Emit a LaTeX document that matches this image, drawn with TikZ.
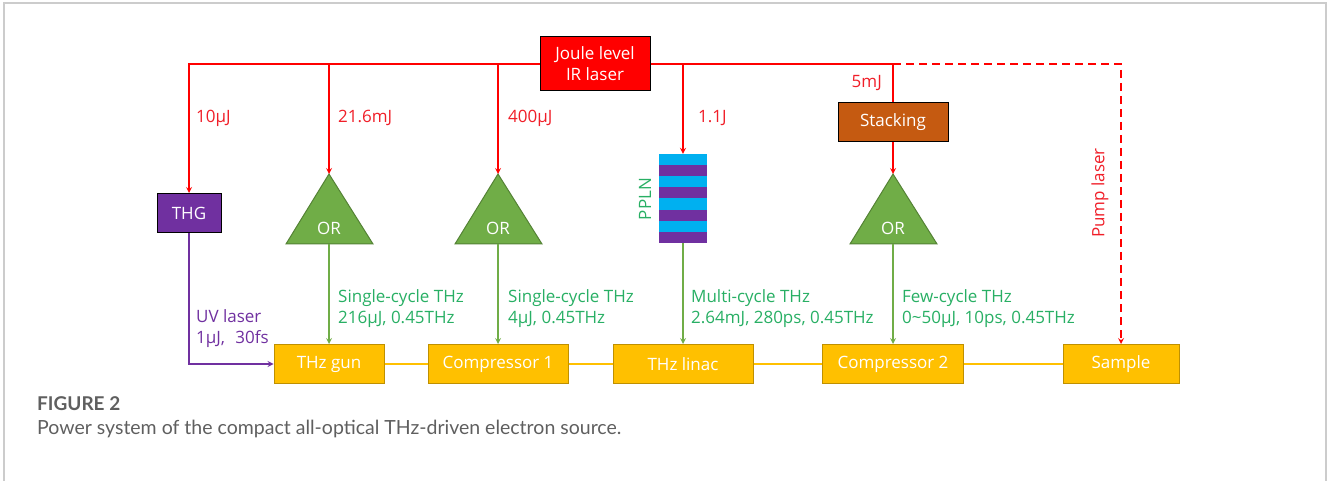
\documentclass[tikz,border=0pt]{standalone}
\usepackage{fontspec}
\setmainfont{Open Sans}
\newfontfamily\capfont{Lato}
\definecolor{irred}{RGB}{255,0,0}
\definecolor{labelred}{RGB}{240,30,40}
\definecolor{thgpurple}{RGB}{112,48,160}
\definecolor{stackbrown}{RGB}{197,90,17}
\definecolor{orgreen}{RGB}{112,173,71}
\definecolor{orgreendark}{RGB}{84,130,53}
\definecolor{thzgreen}{RGB}{40,175,100}
\definecolor{beamyellow}{RGB}{255,192,0}
\definecolor{beamyellowdark}{RGB}{191,144,0}
\definecolor{pplnblue}{RGB}{0,176,240}
\definecolor{framegray}{RGB}{204,204,204}
\definecolor{capgray}{RGB}{95,95,95}
\begin{document}
\begin{tikzpicture}[>=stealth, x=1pt, y=-1pt,
    txt/.style={font=\fontsize{17}{21}\selectfont, inner sep=0},
    box/.style={txt, draw, text=white, minimum height=39},
    beam/.style={box, fill=beamyellow, draw=beamyellowdark, line width=1},
    redline/.style={irred, line width=1.6},
    thzline/.style={orgreen, line width=1.6},
    redlabel/.style={txt, text=labelred},
    thzlabel/.style={txt, text=thzgreen, align=left, anchor=west},
    orshape/.style={fill=orgreen, draw=orgreendark, line width=1}]
    \useasboundingbox (0,0) rectangle (1328,481);
    \draw[framegray, line width=1.5] (4,481) -- (4,3) -- (1326,3) -- (1326,481);

    \node[box, fill=irred, draw=black, line width=1, minimum width=110, minimum height=54, align=center] (joule) at (595,64) {Joule level\\IR laser};
    \node[box, fill=thgpurple, draw=black, line width=1, minimum width=64] (thg) at (189,213) {THG};
    \node[box, fill=stackbrown, draw=black, line width=1, minimum width=110] (stack) at (893,122.5) {Stacking};

    \foreach \n/\x in {1/329,2/498,3/893}{
        \draw[orshape] (\x-43,244) -- (\x,174) -- (\x+44,244) -- cycle;
        \node[txt, text=white] (or\n) at (\x,228) {OR};
        \coordinate (or\n top) at (\x,174);
        \coordinate (or\n bot) at (\x,244);
    }

    \node[minimum width=48, minimum height=89, inner sep=0] (ppln) at (683,198.5) {};
    \fill[pplnblue] (ppln.north west) rectangle (ppln.south east);
    \foreach \i in {1,3,5,7}
        \fill[thgpurple] (659,{154+\i*11.125}) rectangle ++(48,11.125);

    \node[beam, minimum width=110] (gun) at (329,364) {THz gun};
    \node[beam, minimum width=140] (comp1) at (498,364) {Compressor 1};
    \node[beam, minimum width=140] (linac) at (683,364) {THz linac};
    \node[beam, minimum width=141] (comp2) at (893,364) {Compressor 2};
    \node[beam, minimum width=116] (sample) at (1121,364) {Sample};
    \draw[beamyellow, line width=1.5] (gun) -- (comp1) -- (linac) -- (comp2) -- (sample);

    \draw[redline,->] (joule.west) -| (thg.north);
    \draw[redline,->] (joule.west) -| (or1top);
    \draw[redline,->] (joule.west) -| (or2top);
    \draw[redline,->] (joule.east) -| (ppln.north);
    \draw[redline] (joule.east) -| (stack.north);
    \draw[redline,->] (stack.south) -- (or3top);
    \draw[redline,->,dash pattern=on 8pt off 5pt] (stack.north |- joule.east) -| (sample.north);

    \draw[thzline,->] (or1bot) -- (gun.north);
    \draw[thzline,->] (or2bot) -- (comp1.north);
    \draw[thzline,->] (ppln.south) -- (linac.north);
    \draw[thzline,->] (or3bot) -- (comp2.north);
    \draw[thgpurple, line width=1.6, ->] (thg.south) |- (gun.west);

    \node[redlabel, anchor=west] (e1) at (196,118) {10μJ};
    \node[redlabel, anchor=west] (e2) at (338,118) {21.6mJ};
    \node[redlabel, anchor=west] (e3) at (508,118) {400μJ};
    \node[redlabel, anchor=west] (e4) at (698,118) {1.1J};
    \node[redlabel, anchor=east] (e5) at (882,83) {5mJ};
    \node[redlabel, rotate=90] (pump) at (1100,193) {Pump laser};
    \node[txt, text=thzgreen, rotate=90] (pplntext) at (645,199) {PPLN};

    \node[thzlabel] (thz1) at (338,308.5) {Single-cycle THz\\216μJ, 0.45THz};
    \node[thzlabel] (thz2) at (508,308.5) {Single-cycle THz\\4μJ, 0.45THz};
    \node[thzlabel] (thz3) at (691,308.5) {Multi-cycle THz\\2.64mJ, 280ps, 0.45THz};
    \node[thzlabel] (thz4) at (902,308.5) {Few-cycle THz\\0\textasciitilde50μJ, 10ps, 0.45THz};
    \node[txt, text=thgpurple, align=left, anchor=west] (uv) at (196,329) {UV laser\\1μJ,\hspace{0.6em}30fs};

    \node[anchor=west, inner sep=0, text=capgray, font=\capfont\bfseries\fontsize{19}{22}\selectfont] (fig) at (37,404) {FIGURE 2};
    \node[anchor=west, inner sep=0, text=capgray, font=\capfont\fontsize{19.5}{22}\selectfont] (cap) at (37,429) {Power system of the compact all-optical THz-driven electron source.};
\end{tikzpicture}
\end{document}
